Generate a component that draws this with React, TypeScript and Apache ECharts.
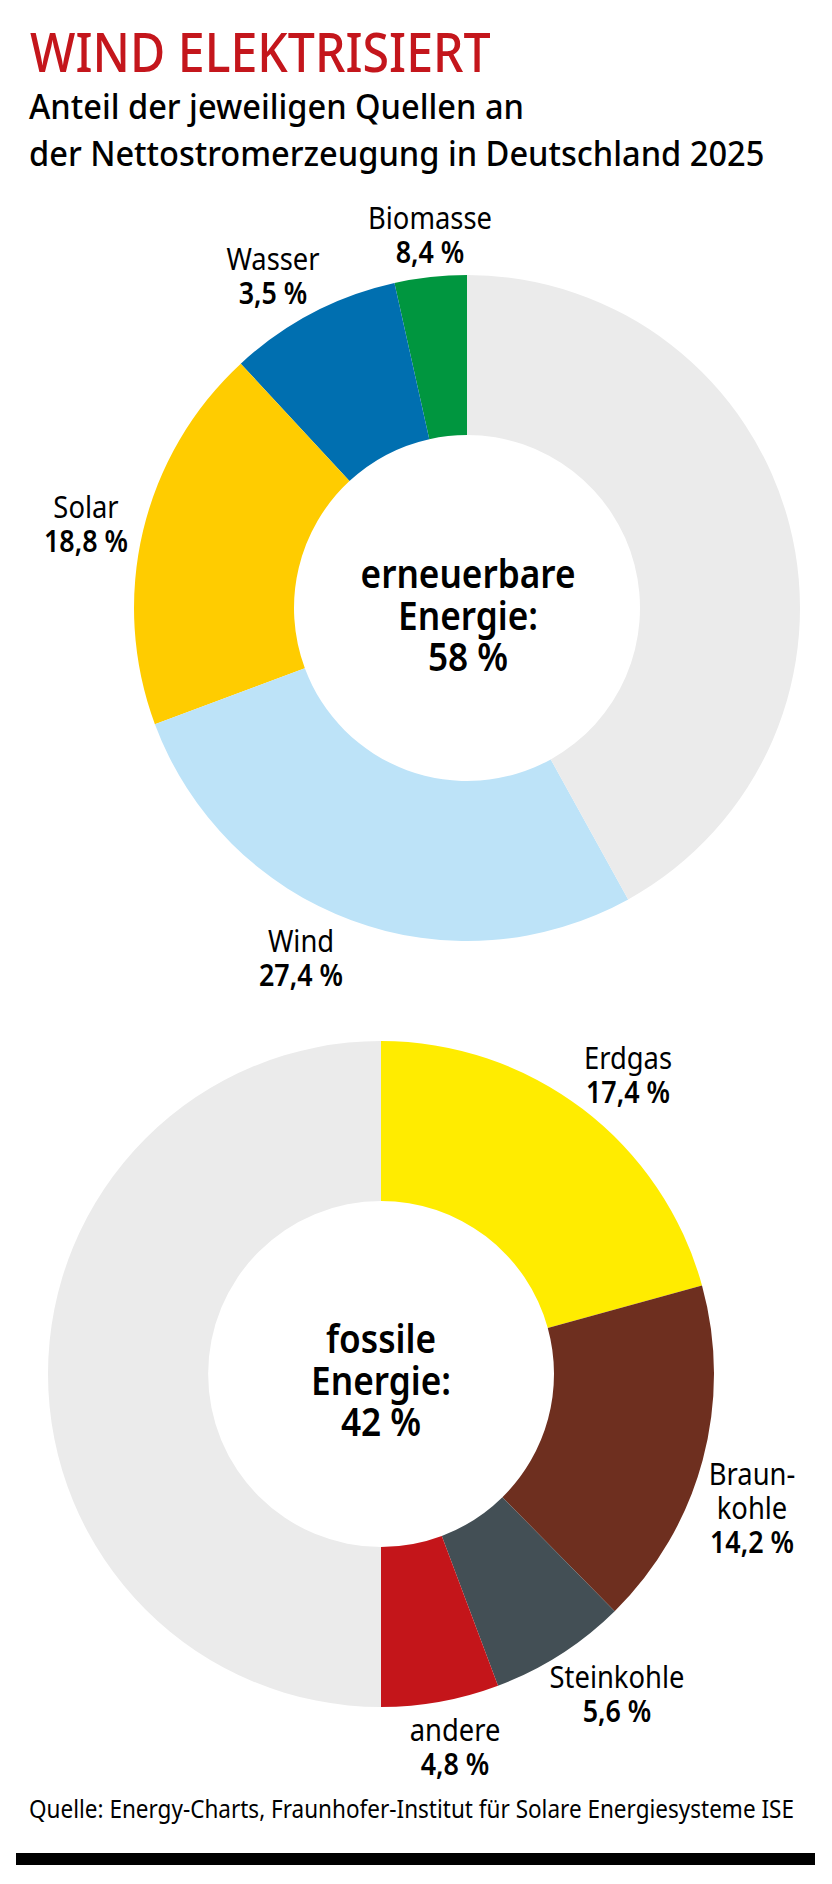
import React, { useEffect, useRef } from "react";
import * as echarts from "echarts";

// ---- data ----
const titleText = "WIND ELEKTRISIERT";
const subtitleLines = ["Anteil der jeweiligen Quellen an", "der Nettostromerzeugung in Deutschland 2025"];
const sourceText = "Quelle: Energy-Charts, Fraunhofer-Institut für Solare Energiesysteme ISE";

// renewable donut (drawn counter-clockwise from 12 o'clock)
const renewableNames = ["Biomasse", "Wasser", "Solar", "Wind"];
const renewablePrinted = ["8,4 %", "3,5 %", "18,8 %", "27,4 %"];
// slice sizes as drawn in the reference (green slice is the small one)
const renewableSlices = [3.5, 8.4, 18.8, 27.4];
const renewableRest = 42;
const renewableTotalText = ["erneuerbare", "Energie:", "58 %"];

// fossil donut (drawn clockwise from 12 o'clock)
const fossilNames = ["Erdgas", "Braun-\nkohle", "Steinkohle", "andere"];
const fossilPrinted = ["17,4 %", "14,2 %", "5,6 %", "4,8 %"];
const fossilSlices = [17.4, 14.2, 5.6, 4.8];
const fossilRest = 42;
const fossilTotalText = ["fossile", "Energie:", "42 %"];

// ---- styles ----
const renewableColors = ["#00963f", "#006fb0", "#ffcc00", "#bde3f8"];
const fossilColors = ["#ffec00", "#6e2f1f", "#434f55", "#c4151a"];
const restColor = "#ebebeb";
const red = "#c4161c";
const FONT = "'Noto Sans', 'Open Sans', sans-serif";

const measureCanvas = typeof document !== "undefined" ? document.createElement("canvas").getContext("2d") : null;
function measure(text: string, size: number, weight: string | number) {
  if (!measureCanvas) return text.length * size * 0.5;
  measureCanvas.font = `${weight} ${size}px ${FONT}`;
  return measureCanvas.measureText(text).width;
}
function fitScale(ref: string, size: number, weight: string | number, target: number) {
  const w = measure(ref, size, weight);
  return w > 0 ? target / w : 1;
}

const K = 0.37; // offset from "middle" to alphabetic baseline, in em

function txt(text: string, x: number, baseline: number, size: number, weight: string | number, sx: number, align: string, fill = "#000") {
  return {
    type: "text",
    x,
    y: baseline - K * size,
    scaleX: sx,
    scaleY: 1,
    silent: true,
    style: {
      text,
      x: 0,
      y: 0,
      fill,
      fontSize: size,
      fontFamily: FONT,
      fontWeight: weight,
      align,
      verticalAlign: "middle",
      textAlign: align,
      textVerticalAlign: "middle",
    },
  };
}

export default function App() {
  const ref = useRef<HTMLDivElement>(null);
  useEffect(() => {
    if (!ref.current) return;
    const chart = echarts.init(ref.current, undefined, { renderer: "svg" });

    const titleSize = 54;
    const titleSx = fitScale(titleText, titleSize, 500, 461);
    const subSize = 35;
    const subSx = fitScale(subtitleLines[1], subSize, 500, 736);
    const nameSize = 30;
    const nameSx = fitScale("Biomasse", nameSize, 400, 124);
    const valSize = 30;
    const valSx = fitScale("27,4 %", valSize, 600, 84);
    const ctrSize = 40;
    const ctrSx = fitScale("erneuerbare", ctrSize, 600, 215);
    const srcSize = 25;
    const srcSx = fitScale(sourceText, srcSize, 400, 765);

    const lineGap = 34;
    const labelPos = {
      renewable: [
        [430, 228],
        [273, 269],
        [86, 517],
        [301, 951],
      ],
      fossil: [
        [628, 1068],
        [752, 1484],
        [617, 1687],
        [455, 1740],
      ],
    };

    const graphics: any[] = [];
    graphics.push(txt(titleText, 30, 71, titleSize, 500, titleSx, "left", red));
    graphics.push(txt(subtitleLines[0], 29, 118, subSize, 500, subSx, "left"));
    graphics.push(txt(subtitleLines[1], 29, 165, subSize, 500, subSx, "left"));

    const addLabels = (names: string[], printed: string[], pos: number[][]) => {
      names.forEach((n, i) => {
        const lines = n.split("\n");
        const [x, y] = pos[i];
        lines.forEach((l, j) => graphics.push(txt(l, x, y + j * lineGap, nameSize, 400, nameSx, "center")));
        graphics.push(txt(printed[i], x, y + lines.length * lineGap + 1, valSize, 600, valSx, "center"));
      });
    };
    addLabels(renewableNames, renewablePrinted, labelPos.renewable);
    addLabels(fossilNames, fossilPrinted, labelPos.fossil);

    [587, 629, 670].forEach((b, i) => graphics.push(txt(renewableTotalText[i], 468, b, ctrSize, 600, ctrSx, "center")));
    [1352, 1394, 1435].forEach((b, i) => graphics.push(txt(fossilTotalText[i], 381, b, ctrSize, 600, ctrSx, "center")));

    graphics.push(txt(sourceText, 29, 1818, srcSize, 400, srcSx, "left"));
    graphics.push({
      type: "rect",
      silent: true,
      shape: { x: 16, y: 1853, width: 799, height: 12 },
      style: { fill: "#000" },
    });

    const pieBase = {
      type: "pie",
      radius: [173, 333],
      startAngle: 90,
      silent: true,
      avoidLabelOverlap: false,
      label: { show: false },
      labelLine: { show: false },
      emphasis: { disabled: true },
      itemStyle: { borderWidth: 0 },
    };

    chart.setOption({
      animation: false,
      backgroundColor: "#fff",
      series: [
        {
          ...pieBase,
          name: "erneuerbar",
          center: [467, 608],
          clockwise: false,
          data: [
            ...renewableSlices.map((v, i) => ({ name: renewableNames[i], value: v, itemStyle: { color: renewableColors[i] } })),
            { name: "Rest", value: renewableRest, itemStyle: { color: restColor } },
          ],
        },
        {
          ...pieBase,
          name: "fossil",
          center: [381, 1374],
          clockwise: true,
          data: [
            ...fossilSlices.map((v, i) => ({ name: fossilNames[i], value: v, itemStyle: { color: fossilColors[i] } })),
            { name: "Rest", value: fossilRest, itemStyle: { color: restColor } },
          ],
        },
      ],
      graphic: { elements: graphics },
    });
    return () => chart.dispose();
  }, []);
  return <div ref={ref} style={{ position: "absolute", left: 0, top: 0, width: 832, height: 1884 }} />;
}
